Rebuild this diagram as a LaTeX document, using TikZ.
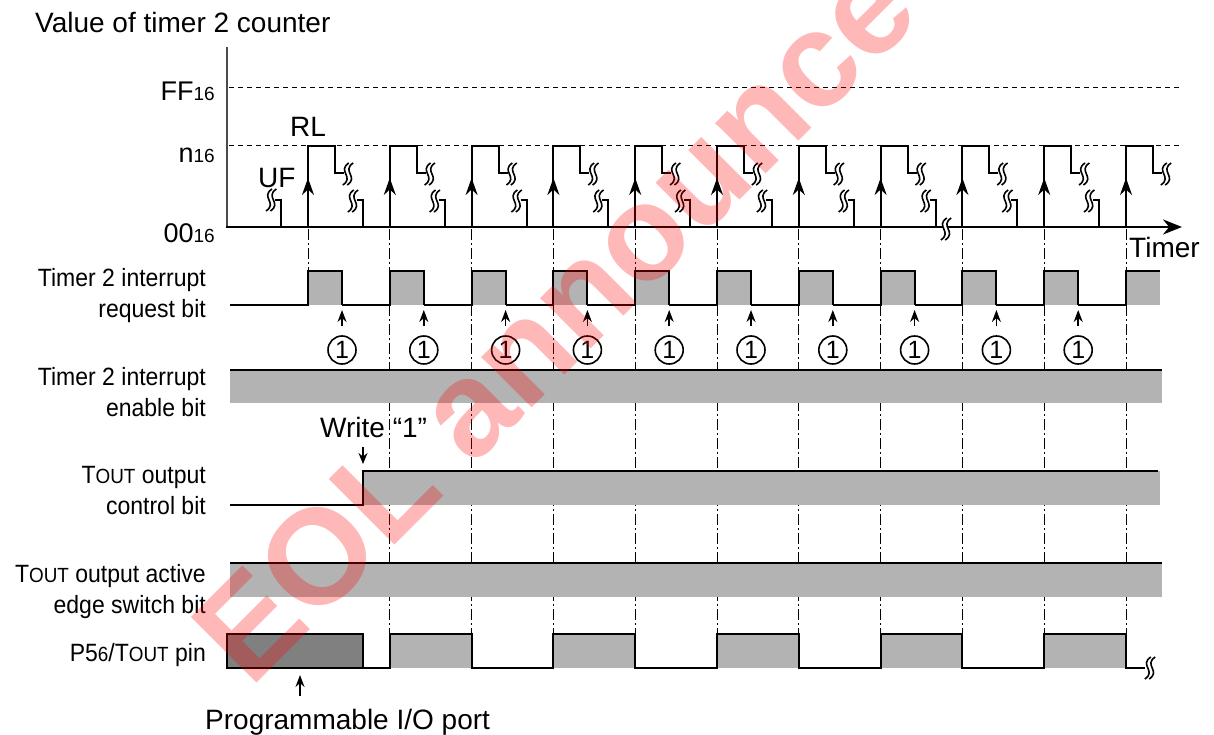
\documentclass[tikz,border=0pt]{standalone}
\usepackage{fontspec}
\usepackage{graphicx}
\setmainfont{Liberation Sans}
\usetikzlibrary{arrows.meta}
\definecolor{lgray}{HTML}{B3B3B3}
\definecolor{dgray}{HTML}{808080}
\newcommand\smt[1]{{\fontsize{20.5}{20}\selectfont #1}}
\newcommand\tout{T\smt{OUT}}
\newcommand\lblbox[1]{\scalebox{0.92}[1]{\begin{tabular}[t]{@{}r@{}}#1\end{tabular}}}
\newcommand\sixteen{{\fontsize{19}{19}\selectfont 16}}
\begin{document}
\begin{tikzpicture}[x=1pt,y=-1pt,
  sig/.style={line width=2pt, line join=miter},
  thinarr/.style={line width=1.5pt, -{Stealth[length=12pt,width=9pt]}},
  bigarr/.style={line width=2pt, -{Stealth[length=17pt,width=12pt]}},
  hdash/.style={line width=1pt, dash pattern=on 5pt off 4pt},
  vdash/.style={line width=1pt, dash pattern=on 11pt off 3pt on 2pt off 3pt},
  lbl/.style={font=\fontsize{25}{31.5}\selectfont, inner sep=0pt},
  big/.style={font=\fontsize{28}{32}\selectfont, inner sep=0pt},
  axl/.style={font=\fontsize{27}{30}\selectfont, inner sep=0pt},
  num/.style={circle, draw, line width=1.6pt, minimum size=28pt, inner sep=0pt, font=\fontsize{25}{25}\selectfont},
  brk/.pic={
    \draw[white, line width=4.5pt] (3,-11) .. controls (-9,-3) and (9,3) .. (-3,11);
    \draw[line width=1.6pt] (0.8,-11) .. controls (-11.2,-3) and (6.8,3) .. (-5.2,11);
    \draw[line width=1.6pt] (5.2,-11) .. controls (-6.8,-3) and (11.2,3) .. (-0.8,11);
  }]
\useasboundingbox (0,0) rectangle (1214,735);

% ---------- texts of the counter graph ----------
\node[big, anchor=base west] (title) at (35,33) {Value of timer 2 counter};
\node[axl, anchor=base east] (ff) at (215,101) {FF\sixteen};
\node[axl, anchor=base east] (nn) at (215,163) {n\sixteen};
\node[axl, anchor=base east] (zz) at (215,242) {00\sixteen};
\node[big, anchor=base west] (rl) at (290,137) {RL};
\node[big, anchor=base west] (uf) at (258,188) {UF};
\node[big, anchor=base west] (timer) at (1129,257) {Timer};

% ---------- left labels ----------
\node[lbl, anchor=base east] (lreq) at (206,286) {\lblbox{Timer 2 interrupt\\request bit}};
\node[lbl, anchor=base east] (lena) at (206,385) {\lblbox{Timer 2 interrupt\\enable bit}};
\node[lbl, anchor=base east] (lctl) at (206,483) {\lblbox{\tout{} output\\control bit}};
\node[lbl, anchor=base east] (ledg) at (206,582) {\lblbox{\tout{} output active\\edge switch bit}};
\node[lbl, anchor=base east] (lpin) at (206,661) {\scalebox{0.92}[1]{P5\smt{6}/\tout{} pin}};

% ---------- dash-dot verticals ----------
\draw[vdash] (308,229) -- (308,271);
\foreach \k in {1,...,10}{
  \pgfmathsetmacro{\xk}{308+81.8*\k}
  \draw[vdash] (\xk,229) -- (\xk,634);
}

% ---------- axes ----------
\draw[line width=1.5pt, black!70] (227,47) -- (227,227);
\draw[hdash] (229,88) -- (1180,88);
\draw[hdash] (229,146) -- (1180,146);
\draw[sig, -{Stealth[length=19pt,width=15pt]}] (226,227) -- (1182,227);
\pic at (946,229) {brk};

% ---------- counter waveform ----------
\pic at (271.2,200) {brk};
\draw[sig] (275,200) -- (281.2,200) -- (281.2,227);
\foreach \k in {0,...,10}{
  \pgfmathsetmacro{\xk}{308+81.8*\k}
  \draw[sig] (\xk,227) -- (\xk,146) -- (\xk+27,146) -- (\xk+27,173) -- (\xk+36,173);
  \pic at (\xk+40,174) {brk};
  \ifnum\k<10
    \pic at (\xk+45,201) {brk};
    \draw[sig] (\xk+49,200) -- (\xk+55,200) -- (\xk+55,227);
  \fi
  \draw[bigarr] (\xk,197) -- (\xk,178);
}

% ---------- interrupt request bit ----------
\foreach \k in {0,...,9}{
  \pgfmathsetmacro{\xk}{308+81.8*\k}
  \pgfmathsetmacro{\pf}{ifthenelse(\k==0,230,308+81.8*(\k-1)+34)}
  \fill[lgray] (\xk,271) rectangle (\xk+34,305);
  \draw[sig] (\pf,305) -- (\xk,305) -- (\xk,271) -- (\xk+34,271) -- (\xk+34,305);
  \coordinate (f\k) at (\xk+34,305);
  \node[num] (c\k) at (\xk+34,350) {1};
  \draw[thinarr, shorten <=9pt, shorten >=5pt] (c\k.north) -- (f\k);
}
\fill[lgray] (1126,271) rectangle (1160,305);
\draw[sig] (1078.2,305) -- (1126,305) -- (1126,271) -- (1160,271);

% ---------- interrupt enable bit ----------
\fill[lgray] (230,370) rectangle (1162,403);
\draw[sig] (230,370) -- (1162,370);

% ---------- TOUT output control bit ----------
\fill[lgray] (363,471) rectangle (1160,505);
\draw[sig] (230,505) -- (363,505) -- (363,471) -- (1158,471);
\node[big, anchor=base west] (write) at (320,437) {Write “1”};
\coordinate (wr) at (363,471);
\draw[line width=1.5pt, -{Stealth[length=11pt,width=9pt]}, shorten >=7pt] (363,447) -- (wr);

% ---------- TOUT output active edge switch bit ----------
\fill[lgray] (230,563) rectangle (1162,597);
\draw[sig] (230,563) -- (1162,563);

% ---------- P56/TOUT pin ----------
\filldraw[sig, fill=dgray] (227,634) rectangle (363,668);
\foreach \k in {1,3,5,7,9}{
  \pgfmathsetmacro{\xa}{308+81.8*\k}
  \pgfmathsetmacro{\xb}{308+81.8*(\k+1)}
  \fill[lgray] (\xa,634) rectangle (\xb,668);
}
\draw[sig] (363,668) -- (389.8,668) -- (389.8,634) -- (471.6,634) -- (471.6,668)
  -- (553.4,668) -- (553.4,634) -- (635.2,634) -- (635.2,668)
  -- (717,668) -- (717,634) -- (798.8,634) -- (798.8,668)
  -- (880.6,668) -- (880.6,634) -- (962.4,634) -- (962.4,668)
  -- (1044.2,668) -- (1044.2,634) -- (1126,634) -- (1126,668) -- (1145,668);
\pic at (1150,668) {brk};

\node[big, anchor=base west] (prog) at (205,729) {Programmable I/O port};
\coordinate (pa) at (300,668);
\draw[line width=1.5pt, -{Stealth[length=12pt,width=9pt]}, shorten >=7pt] (300,696) -- (pa);

% ---------- watermark ----------
\node[rotate=45, anchor=base west, text=red, opacity=0.28, inner sep=0pt,
  font=\bfseries\fontsize{135}{135}\selectfont] (wm) at (250,690) {EOL announce};
\end{tikzpicture}
\end{document}
